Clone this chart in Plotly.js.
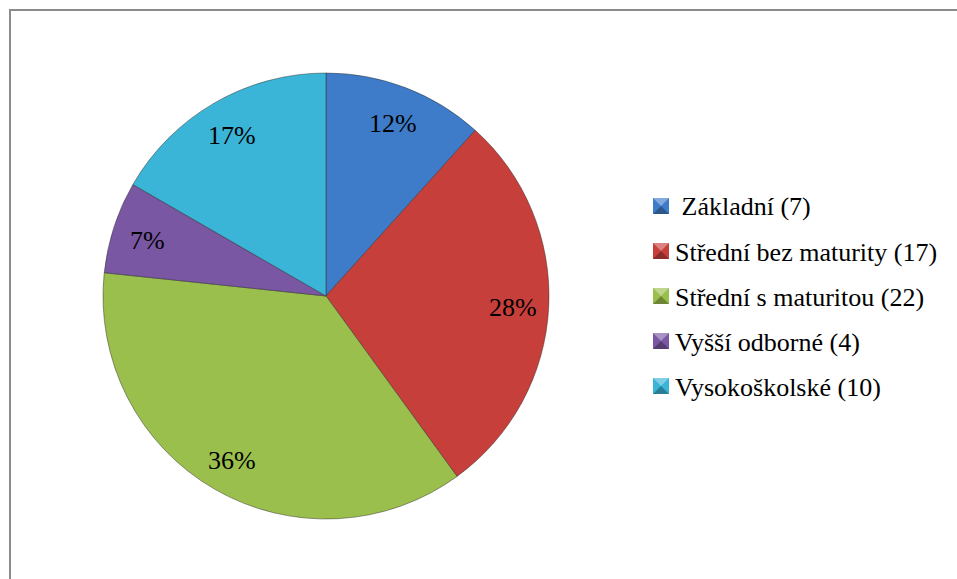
<!DOCTYPE html>
<html>
<head>
<meta charset="utf-8">
<script src="https://cdn.plot.ly/plotly-3.0.1.min.js"></script>
<style>
html,body{margin:0;padding:0;background:#fff;}
#chart{width:957px;height:579px;}
#chart .annotation-text{font-family:'Liberation Serif', 'Times New Roman', serif !important;}
</style>
</head>
<body>
<div id="chart"></div>
<script>
// ---- data ----
const categories = ['Základní', 'Střední bez maturity', 'Střední s maturitou', 'Vyšší odborné', 'Vysokoškolské'];
const counts = [7, 17, 22, 4, 10];
const percentLabels = ['12%', '28%', '36%', '7%', '17%'];
const legendLabels = [' Základní (7)', 'Střední bez maturity (17)', 'Střední s maturitou (22)', 'Vyšší odborné (4)', 'Vysokoškolské (10)'];
const sliceColors = ['#3E7CC9', '#C73F3B', '#9BBF4C', '#7957A2', '#3AB4D7'];

// ---- layout geometry (pixels) ----
const W = 957, H = 579;
const pie = {cx: 326, cy: 296, r: 223};
const labelFont = {family: 'Liberation Serif', size: 26, color: '#000000'};
const px = x => x / W;
const py = y => 1 - y / H;

function shade(hex, f) {
  const n = parseInt(hex.slice(1), 16);
  let r = (n >> 16) & 255, g = (n >> 8) & 255, b = n & 255;
  const t = f > 0 ? 255 : 0, a = Math.abs(f);
  r = Math.round(r + (t - r) * a); g = Math.round(g + (t - g) * a); b = Math.round(b + (t - b) * a);
  return 'rgb(' + r + ',' + g + ',' + b + ')';
}

const trace = {
  type: 'pie',
  labels: categories,
  values: counts,
  sort: false,
  direction: 'clockwise',
  rotation: 0,
  textinfo: 'none',
  hoverinfo: 'label+value+percent',
  marker: {colors: sliceColors, line: {color: 'rgba(40,40,40,0.45)', width: 1}},
  domain: {x: [px(pie.cx - pie.r), px(pie.cx + pie.r)], y: [py(pie.cy + pie.r), py(pie.cy - pie.r)]},
  showlegend: false
};

const annotations = [];
const shapes = [];

// percentage labels at the mid-angle of each slice
const total = counts.reduce((a, b) => a + b, 0);
let cum = 0;
counts.forEach((v, i) => {
  const mid = (cum + v / 2) / total * 2 * Math.PI;
  cum += v;
  const rr = pie.r * 0.84;
  const x = pie.cx + rr * Math.sin(mid);
  const y = pie.cy - rr * Math.cos(mid) + 2;
  annotations.push({
    xref: 'paper', yref: 'paper', x: px(x), y: py(y),
    text: percentLabels[i], showarrow: false,
    xanchor: 'center', yanchor: 'middle',
    font: Object.assign({}, labelFont)
  });
});

// legend
const legX = 653, legTextX = 673, legY0 = 206, legStep = 45, sq = 16;
legendLabels.forEach((lab, i) => {
  const cy = legY0 + i * legStep;
  const x0 = legX, x1 = legX + sq, y0 = cy - sq / 2, y1 = cy + sq / 2;
  const c = sliceColors[i];
  const mx = (x0 + x1) / 2, my = (y0 + y1) / 2;
  const P = (x, y) => px(x) + ',' + py(y);
  shapes.push({type: 'rect', xref: 'paper', yref: 'paper', x0: px(x0), x1: px(x1), y0: py(y1), y1: py(y0),
    fillcolor: c, line: {width: 0}});
  shapes.push({type: 'path', xref: 'paper', yref: 'paper',
    path: 'M' + P(x0, y0) + ' L' + P(x1, y0) + ' L' + P(mx, my) + ' Z',
    fillcolor: shade(c, 0.35), line: {width: 0}});
  shapes.push({type: 'path', xref: 'paper', yref: 'paper',
    path: 'M' + P(x0, y1) + ' L' + P(x1, y1) + ' L' + P(mx, my) + ' Z',
    fillcolor: shade(c, -0.3), line: {width: 0}});
  annotations.push({
    xref: 'paper', yref: 'paper', x: px(legTextX), y: py(cy + 1),
    text: lab, showarrow: false, xanchor: 'left', yanchor: 'middle',
    font: Object.assign({}, labelFont)
  });
});

// chart area frame (left and top edges visible)
shapes.push({type: 'path', xref: 'paper', yref: 'paper',
  path: 'M' + px(10) + ',' + py(600) + ' L' + px(10) + ',' + py(10) + ' L' + px(980) + ',' + py(10),
  line: {color: '#8c8c8c', width: 2}});

const layout = {
  width: W, height: H,
  margin: {l: 0, r: 0, t: 0, b: 0, pad: 0},
  paper_bgcolor: '#ffffff',
  font: {family: 'Liberation Serif'},
  showlegend: false,
  annotations: annotations,
  shapes: shapes
};

function applySerif() {
  document.querySelectorAll('#chart .annotation-text').forEach(t => {
    t.style.setProperty('font-family', "'Liberation Serif', 'Times New Roman', serif", 'important');
  });
}

Plotly.newPlot('chart', [trace], layout, {displayModeBar: false, staticPlot: true}).then(() => {
  applySerif();
  const fontReady = (document.fonts && document.fonts.load)
    ? document.fonts.load('26px "Liberation Serif"', 'Základní 12%')
    : Promise.resolve();
  return fontReady.catch(() => {}).then(() => Plotly.redraw('chart')).then(() => {
    applySerif();
    const el = document.getElementById('chart');
    el.style.opacity = '0.999';
    requestAnimationFrame(() => { el.style.opacity = '1'; });
  });
});
</script>
</body>
</html>
